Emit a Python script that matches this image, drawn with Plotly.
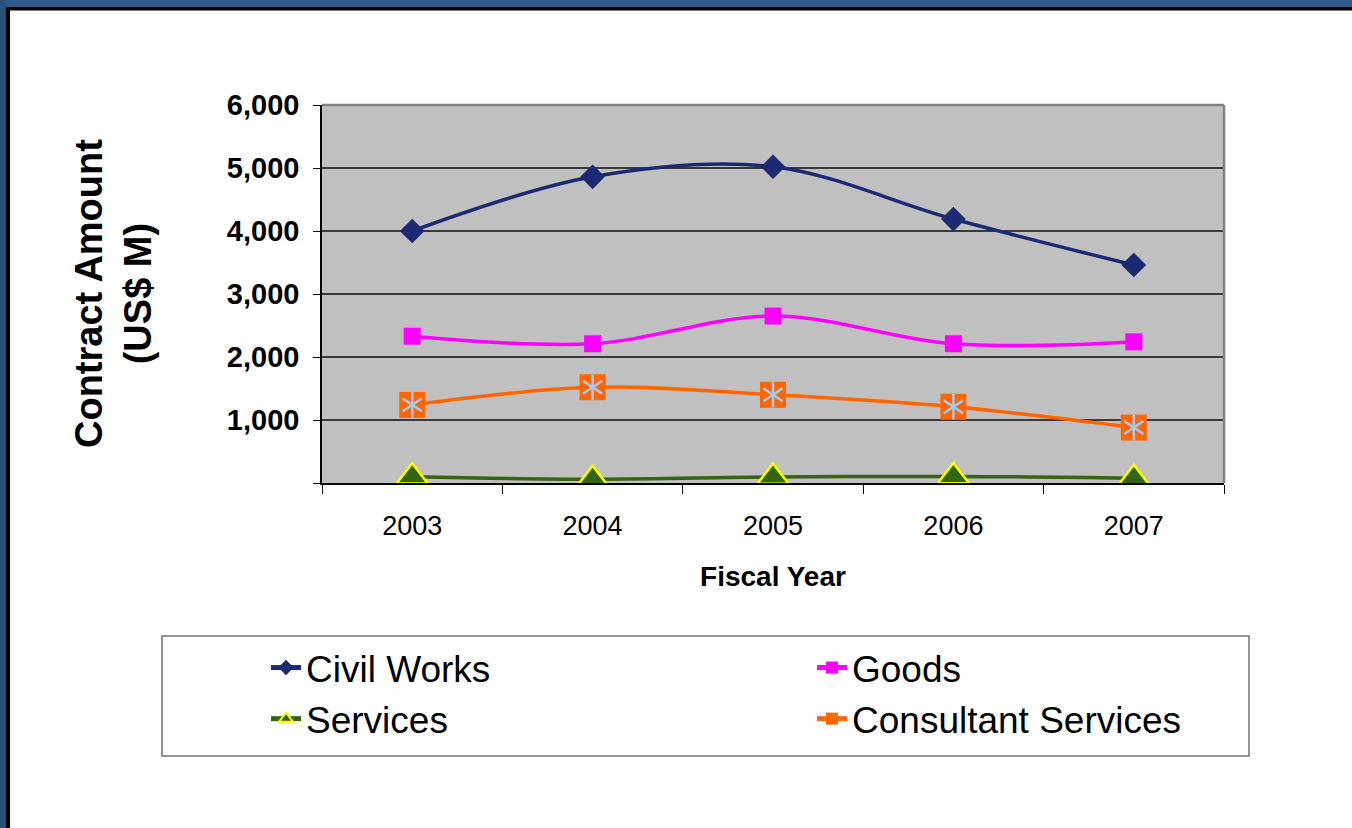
import plotly.graph_objects as go

years = ["2003", "2004", "2005", "2006", "2007"]
civil_works = [4000, 4860, 5020, 4190, 3460]
goods = [2330, 2210, 2650, 2210, 2240]
services = [100, 60, 95, 105, 75]
consultant = [1240, 1520, 1400, 1210, 880]
y_ticks = [0, 1000, 2000, 3000, 4000, 5000, 6000]
y_tick_labels = ["", "1,000", "2,000", "3,000", "4,000", "5,000", "6,000"]

W, H = 1352, 828
L, R, T, B = 322, 1224, 105, 483  # plot area pixels

def px(x):
    return (x - L) / (R - L)

def py(y):
    return (B - y) / (B - T)

FONT = "Liberation Sans, Arial, sans-serif"

fig = go.Figure()
fig.add_trace(go.Scatter(
    x=years, y=civil_works, name="Civil Works", mode="lines+markers",
    line=dict(color="#1B2A72", width=3.5, shape="spline", smoothing=1),
    marker=dict(symbol="diamond", size=19, color="#1B2A72")))
fig.add_trace(go.Scatter(
    x=years, y=goods, name="Goods", mode="lines+markers",
    line=dict(color="#FF00FF", width=3.5, shape="spline", smoothing=1),
    marker=dict(symbol="square", size=17, color="#FF00FF")))
fig.add_trace(go.Scatter(
    x=years, y=services, name="Services", mode="lines+markers",
    line=dict(color="#336611", width=3.5, shape="spline", smoothing=1),
    marker=dict(symbol="triangle-up", size=27, color="#336611",
                line=dict(color="#FFFF00", width=2.5))))
fig.add_trace(go.Scatter(
    x=years, y=consultant, name="Consultant Services", mode="lines+markers",
    line=dict(color="#FF6600", width=3.5, shape="spline", smoothing=1),
    marker=dict(symbol="square", size=26, color="#FF6600")))
for sym in ["y-up-open", "y-down-open"]:
    fig.add_trace(go.Scatter(
        x=years, y=consultant, name="Consultant Services", mode="markers",
        showlegend=False, hoverinfo="skip",
        marker=dict(symbol=sym, size=16, color="#A6CAF0",
                    line=dict(color="#A6CAF0", width=2.5))))

shapes = [
    # plot top/right gray border
    dict(type="line", xref="paper", yref="paper", x0=0, x1=1, y0=1, y1=1,
         line=dict(color="#808080", width=2.5)),
    dict(type="line", xref="paper", yref="paper", x0=1, x1=1, y0=0, y1=1,
         line=dict(color="#808080", width=2.5)),
    # legend box
    dict(type="rect", xref="paper", yref="paper", x0=px(162), x1=px(1249), y0=py(636), y1=py(756),
         line=dict(color="#707070", width=1.5), fillcolor="rgba(0,0,0,0)"),
    # outer frame
    dict(type="rect", xref="paper", yref="paper", x0=px(0), x1=px(W), y0=py(0), y1=py(7),
         fillcolor="#2E5C8C", line=dict(width=0)),
    dict(type="rect", xref="paper", yref="paper", x0=px(6), x1=px(W), y0=py(7), y1=py(10.5),
         fillcolor="#000000", line=dict(width=0)),
    dict(type="rect", xref="paper", yref="paper", x0=px(0), x1=px(6), y0=py(0), y1=py(H),
         fillcolor="#27507A", line=dict(width=0)),
    dict(type="rect", xref="paper", yref="paper", x0=px(6), x1=px(10), y0=py(7), y1=py(H),
         fillcolor="#000000", line=dict(width=0)),
]

fig.update_layout(
    width=W, height=H,
    margin=dict(l=L, r=W - R, t=T, b=H - B, autoexpand=False),
    paper_bgcolor="white", plot_bgcolor="#C0C0C0",
    font=dict(family=FONT, color="black"),
    shapes=shapes,
    xaxis=dict(
        type="category", range=[-0.5, 4.5], showgrid=False,
        showline=True, linecolor="black", linewidth=1.5,
        ticks="outside", tickson="boundaries", ticklen=9, tickcolor="black",
        ticklabelstandoff=18,
        tickfont=dict(size=27, family=FONT),
        title=dict(text="<b>Fiscal Year</b>", font=dict(size=28, family=FONT), standoff=26),
    ),
    yaxis=dict(
        range=[0, 6000], tickvals=y_ticks, ticktext=y_tick_labels,
        showgrid=True, gridcolor="#3A3A3A", gridwidth=1.5,
        showline=True, linecolor="black", linewidth=1.5,
        ticks="outside", ticklen=7, tickcolor="black",
        ticklabelstandoff=8,
        tickfont=dict(size=29, family=FONT, weight="bold"),
        zeroline=False,
    ),
    legend=dict(
        orientation="h", x=px(266), y=py(637), xanchor="left", yanchor="top",
        borderwidth=0, bgcolor="rgba(0,0,0,0)",
        font=dict(size=37, family=FONT),
        entrywidth=501, entrywidthmode="pixels",
        itemsizing="constant",
    ),
    annotations=[
        dict(text="<b>Contract Amount<br>(US$ M)</b>", textangle=-90,
             xref="paper", yref="paper", x=px(113), y=py(294),
             xanchor="center", yanchor="middle", showarrow=False,
             font=dict(size=38, family=FONT)),
    ],
)

fig.write_html("out.html", config={"displayModeBar": False},
               post_script="document.body.style.margin='0';")
